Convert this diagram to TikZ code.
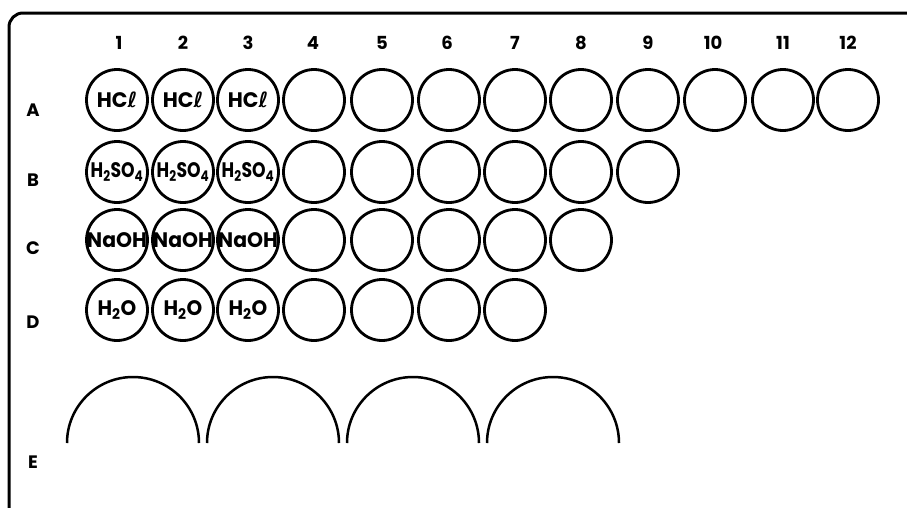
\documentclass[tikz,border=0pt]{standalone}
\usepackage{fontspec}
\setmainfont{Poppins}
\newfontfamily\dejavu{DejaVu Sans}
\usepackage{graphicx}
\begin{document}
\begin{tikzpicture}[x=1pt,y=-1pt,
  well/.style={circle, draw, line width=2.8pt, minimum size=61pt, inner sep=0pt},
  lbl/.style={font=\fontsize{18}{18}\selectfont\bfseries, inner sep=0pt},
  wtxt/.style={font=\fontsize{21}{21}\selectfont\bfseries, inner sep=0pt},
  arcw/.style={line width=2.5pt}]
\useasboundingbox[fill=white] (0,0) rectangle (907,507);
% plate frame
\draw[line width=3pt, rounded corners=14pt] (9,530) -- (9,13) -- (930,13);
% column labels
\foreach \x [count=\i] in {119,183,248,313,382,447,515,581,648,713,783,848}
  \node[lbl] (c\i) at (\x,43) {\i};
% row labels
\foreach \r/\y in {A/110,B/180,C/248,D/322,E/462}
  \node[lbl] (r\r) at (33,\y) {\r};
% wells
\foreach \r/\y/\n in {A/100/12,B/172/9,C/240/8,D/310/7}
  \foreach \x [count=\i] in {117,183,248,314,382,449,515,581,648,715,783,848}
    {\ifnum\i>\n\relax\else\node[well] (\r\i) at (\x,\y) {};\fi}
% well contents
\foreach \i in {1,2,3}{
  \node[wtxt] (tA\i) at (A\i.center) {\scalebox{0.98}[1]{HC{\dejavu\bfseries ℓ}}};
  \node[wtxt] (tB\i) at (B\i.center) {\scalebox{0.82}[1]{H\textsubscript{2}SO\textsubscript{4}}};
  \node[wtxt] (tC\i) at (C\i.center) {\scalebox{0.97}[1]{NaOH}};
  \node[wtxt] (tD\i) at (D\i.center) {\scalebox{0.95}[1]{H\textsubscript{2}O}};
}
% row E large wells (partly drawn)
\foreach \x in {133,273,413,553}
  \draw[arcw] (\x-66,443) arc[start angle=180, end angle=360, radius=66];
\end{tikzpicture}
\end{document}
